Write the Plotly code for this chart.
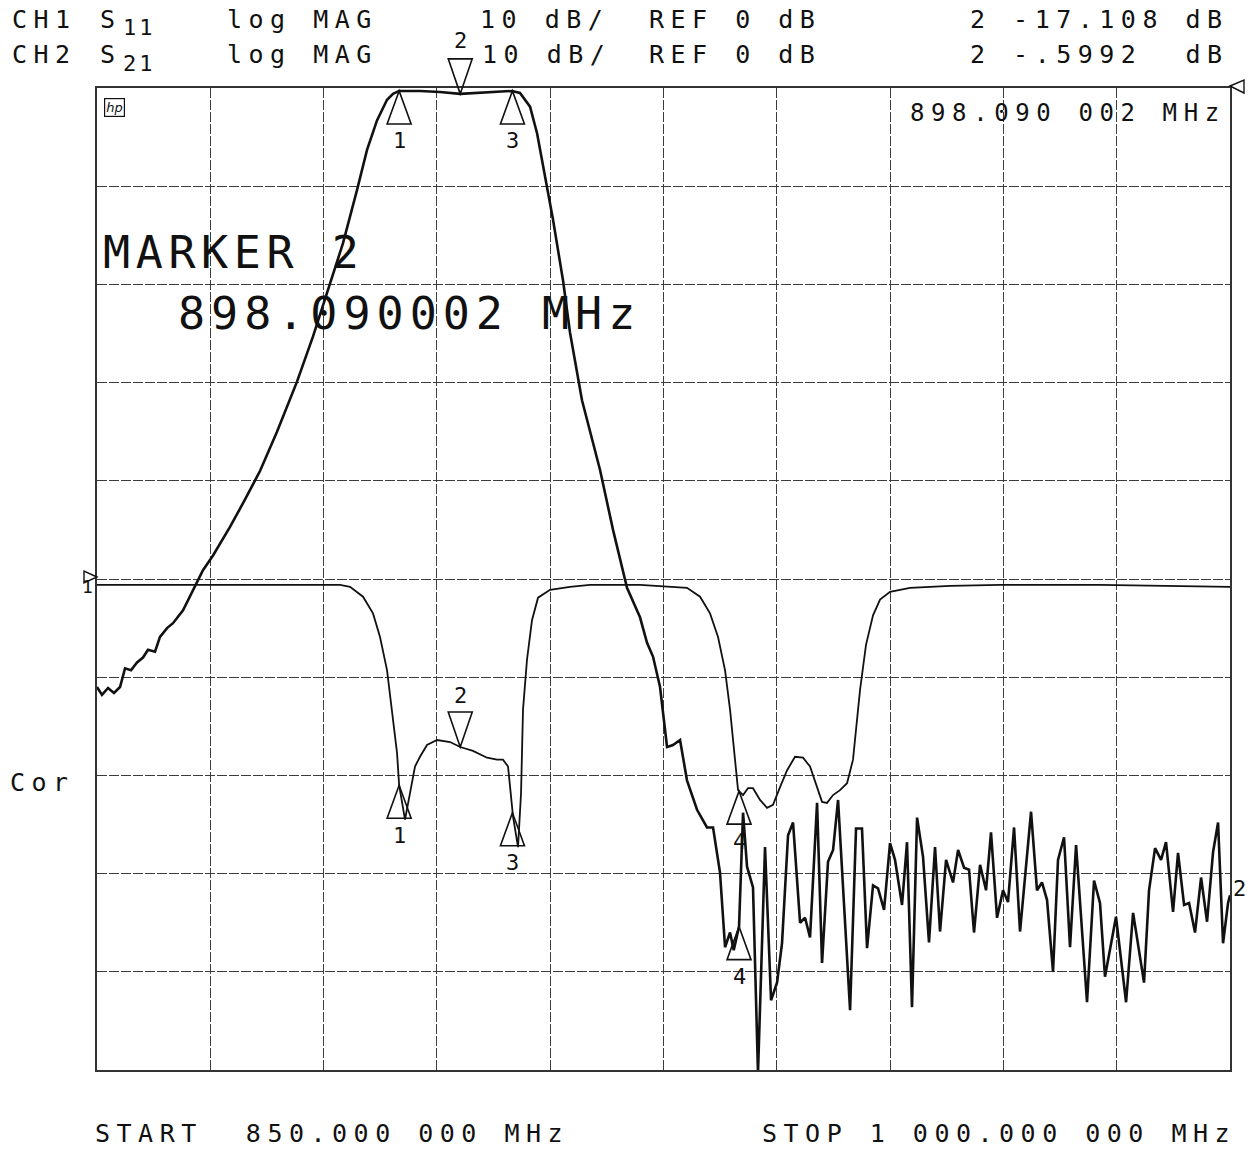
import plotly.graph_objects as go

# ---------------- data ----------------
FREQ_START, FREQ_STOP = 850.0, 1000.0   # MHz
S21_RANGE = [-100.0, 0.0]               # CH2, REF 0 dB at top, 10 dB/div
S11_RANGE = [-50.0, 50.0]               # CH1, REF 0 dB at centre, 10 dB/div

S21_MHZ = [850.0, 850.66, 851.46, 852.25, 853.05, 853.71, 854.50, 855.30, 856.09, 856.75,
           857.68, 858.34, 859.27, 860.06, 861.39, 862.71, 864.03, 865.36, 867.61, 869.60,
           871.58, 873.83, 876.48, 878.60, 880.85, 882.57, 884.42, 885.75, 887.07, 888.40,
           889.19, 889.98, 892.76, 895.41, 898.09, 900.71, 903.36, 904.95, 906.0, 907.33,
           908.26, 909.05, 910.37, 911.70, 912.62, 914.21, 916.6, 918.32, 920.17, 921.89,
           922.82, 923.61, 924.54, 925.47, 926.26, 927.19, 928.11, 929.44, 930.76, 931.56,
           932.48, 933.15, 933.81, 934.30, 935.0, 935.53, 936.06, 936.85, 937.51, 938.44,
           939.24, 940.03, 940.69, 941.49, 942.15, 943.08, 943.74, 944.40, 945.33, 945.99,
           946.78, 947.45, 948.11, 949.70, 950.49, 951.28, 951.95, 952.74, 953.40, 954.20,
           954.99, 955.65, 956.58, 957.24, 957.90, 958.57, 959.36, 960.15, 960.95, 961.61,
           962.41, 963.33, 964.0, 964.79, 965.45, 966.11, 966.91, 967.70, 968.36, 969.16,
           969.95, 970.61, 971.41, 972.20, 973.66, 974.45, 975.11, 975.78, 976.57, 977.23,
           978.03, 978.82, 979.62, 981.07, 982.0, 982.79, 983.45, 984.91, 986.24, 987.17,
           988.62, 989.28, 990.08, 990.87, 991.53, 992.46, 993.12, 993.92, 994.58, 995.37,
           996.17, 996.96, 997.76, 998.42, 999.08, 999.74, 1000.0]
S21_DB = [-61.0, -61.8, -61.1, -61.6, -61.0, -59.1, -59.3, -58.5, -58.0, -57.2,
          -57.4, -55.9, -55.0, -54.5, -53.2, -51.1, -49.1, -47.6, -44.7, -41.9,
          -39.0, -35.0, -29.9, -25.3, -20.0, -15.8, -10.4, -6.3, -3.3, -1.2,
          -0.6, -0.3, -0.3, -0.4, -0.6, -0.5, -0.4, -0.3, -0.5, -1.9,
          -4.6, -8.0, -13.4, -19.6, -24.9, -31.8, -38.9, -45.0, -50.9, -53.9,
          -56.5, -57.9, -61.0, -67.1, -66.9, -66.4, -70.5, -73.5, -75.3, -75.3,
          -79.9, -87.5, -86.0, -87.8, -85.4, -73.8, -79.3, -81.4, -100.3, -77.3,
          -92.9, -91.1, -87.1, -76.1, -74.8, -85.0, -84.5, -86.5, -72.8, -89.1,
          -78.8, -77.6, -72.5, -93.9, -75.4, -75.4, -87.6, -81.2, -81.5, -83.7,
          -76.9, -78.6, -83.2, -76.8, -93.6, -74.3, -78.3, -87.0, -77.3, -85.9,
          -78.6, -80.9, -77.6, -79.4, -79.6, -86.0, -79.1, -81.7, -75.8, -84.5,
          -81.7, -82.9, -75.3, -85.9, -73.7, -81.7, -80.9, -82.7, -90.0, -78.6,
          -76.3, -87.5, -77.1, -93.1, -80.7, -83.0, -90.5, -84.4, -93.1, -84.0,
          -91.1, -81.7, -77.4, -78.6, -76.8, -83.9, -77.9, -83.2, -83.0, -86.0,
          -80.4, -84.9, -77.8, -74.8, -87.1, -83.0, -82.2]

S11_MHZ = [850.0, 863.64, 876.88, 882.17, 883.5, 885.22, 886.54, 887.47, 888.40, 889.06,
           889.72, 890.0, 890.78, 891.44, 892.10, 892.76, 893.69, 895.02, 896.74, 898.09,
           899.78, 901.64, 902.96, 903.75, 904.42, 905.08, 905.74, 906.14, 906.40, 906.93,
           907.59, 908.39, 909.98, 912.62, 915.27, 921.89, 928.11, 929.84, 931.16, 932.22,
           933.15, 933.81, 934.34, 934.87, 935.53, 936.19, 936.85, 937.78, 938.71, 939.50,
           940.43, 941.35, 942.41, 943.47, 944.40, 945.33, 945.99, 946.65, 947.45, 948.37,
           949.30, 950.09, 951.02, 951.81, 952.74, 953.67, 954.99, 957.64, 962.94, 969.55,
           982.79, 1000.0]
S11_DB = [-0.6, -0.6, -0.6, -0.6, -0.8, -1.8, -3.5, -5.9, -9.3, -13.3,
          -17.7, -21.0, -24.5, -21.8, -19.1, -18.1, -16.9, -16.4, -16.6, -17.108,
          -17.5, -18.2, -18.4, -18.4, -19.1, -24.2, -27.3, -21.8, -13.3, -8.2,
          -4.2, -1.9, -1.1, -0.8, -0.6, -0.6, -0.9, -1.8, -3.5, -5.9,
          -9.3, -13.3, -17.7, -21.5, -22.0, -21.3, -21.3, -22.5, -23.3, -23.0,
          -21.2, -19.5, -18.1, -18.2, -19.1, -21.2, -22.7, -22.8, -22.0, -21.5,
          -20.8, -18.4, -11.3, -6.7, -3.7, -2.1, -1.3, -0.9, -0.7, -0.6,
          -0.6, -0.8]

MARKER_NO = ["1", "2", "3", "4"]
MARKER_MHZ = [890.0, 898.090002, 905.0, 935.0]
S11_MARKER_DB = [-21.0, -17.108, -23.8, -21.6]
S21_MARKER_DB = [-0.3, -0.5992, -0.3, -85.4]
ACTIVE_MARKER = "2"

# ---------------- layout constants ----------------
W, H = 1252, 1151
L, R, T, B = 97, 22, 88, 81
PLOT_X0, PLOT_X1, PLOT_Y0, PLOT_Y1 = L, W - R, T, H - B   # page pixels
FONT = "DejaVu Sans Mono"
INK = "#111111"


def px(x):
    return (x - PLOT_X0) / (PLOT_X1 - PLOT_X0)


def py(y):
    return (PLOT_Y1 - y) / (PLOT_Y1 - PLOT_Y0)


def label(s, x, y, size=25, sp=6.5):
    return dict(text=f'<span style="letter-spacing:{sp}px">{s}</span>',
                x=px(x), y=py(y), xref="paper", yref="paper",
                xanchor="left", yanchor="middle", showarrow=False,
                font=dict(family=FONT, size=size, color=INK))


fig = go.Figure()

fig.add_trace(go.Scatter(x=S11_MHZ, y=S11_DB, yaxis="y2", mode="lines",
                         line=dict(color=INK, width=1.8), name="CH1 S11",
                         showlegend=False))
fig.add_trace(go.Scatter(x=S21_MHZ, y=S21_DB, mode="lines",
                         line=dict(color=INK, width=2.6), name="CH2 S21",
                         showlegend=False, cliponaxis=True))

shapes = []
ann = []

tri_up = "M0,0 L-12,-33 L12,-33 Z"
tri_dn = "M0,0 L-12,35 L12,35 Z"

for no, f, d11, d21 in zip(MARKER_NO, MARKER_MHZ, S11_MARKER_DB, S21_MARKER_DB):
    active = (no == ACTIVE_MARKER)
    # S11 markers
    shapes.append(dict(type="path", xref="x", yref="y2", xsizemode="pixel", ysizemode="pixel",
                       xanchor=f, yanchor=d11, path=tri_dn if active else tri_up,
                       line=dict(color=INK, width=1.6), fillcolor="rgba(0,0,0,0)"))
    ann.append(dict(text=no, x=f, y=d11, xref="x", yref="y2", showarrow=False,
                    yshift=52 if active else -50,
                    font=dict(family=FONT, size=22, color=INK)))
    # S21 markers
    if active:
        frac = (d21 - S21_RANGE[0]) / (S21_RANGE[1] - S21_RANGE[0])
        shapes.append(dict(type="path", xref="x", yref="paper", xsizemode="pixel", ysizemode="pixel",
                           xanchor=f, yanchor=frac, path=tri_dn,
                           line=dict(color=INK, width=1.6), fillcolor="rgba(0,0,0,0)"))
    else:
        shapes.append(dict(type="path", xref="x", yref="y", xsizemode="pixel", ysizemode="pixel",
                           xanchor=f, yanchor=d21, path=tri_up,
                           line=dict(color=INK, width=1.6), fillcolor="rgba(0,0,0,0)"))
    ann.append(dict(text=no, x=f, y=d21, xref="x", yref="y", showarrow=False,
                    yshift=53 if active else -50,
                    font=dict(family=FONT, size=22, color=INK)))

# reference position indicators
shapes.append(dict(type="path", xref="paper", yref="paper", xsizemode="pixel", ysizemode="pixel",
                   xanchor=0, yanchor=(0 - S11_RANGE[0]) / (S11_RANGE[1] - S11_RANGE[0]),
                   path="M0,2 L-13,8 L-13,-4 Z", line=dict(color=INK, width=1.4)))
shapes.append(dict(type="path", xref="paper", yref="paper", xsizemode="pixel", ysizemode="pixel",
                   xanchor=1, yanchor=1, path="M0,2 L14,8 L14,-5 Z",
                   line=dict(color=INK, width=1.4)))

# header / footer / annotations (positions in page pixels)
ann += [
    label("CH1", 10, 19), label("S", 98, 19), label("11", 121, 28, size=22, sp=3),
    label("log MAG", 225, 19), label("10 dB/", 478, 19), label("REF 0 dB", 647, 19),
    label("2 -17.108 dB", 968, 19),
    label("CH2", 10, 54), label("S", 98, 54), label("21", 121, 63, size=22, sp=3),
    label("log MAG", 225, 54), label("10 dB/", 480, 54), label("REF 0 dB", 647, 54),
    label("2 -.5992  dB", 968, 54),
    label("898.090 002 MHz", 908, 113, size=24, sp=6.6),
    label("MARKER 2", 101, 253, size=45, sp=5.6),
    label("898.090002 MHz", 176, 313, size=45, sp=6),
    label("Cor", 8, 782),
    label("1", 80, 586, size=18, sp=0),
    label("2", 1231, 888, size=22, sp=0),
    label("START  850.000 000 MHz", 93, 1133),
    label("STOP 1 000.000 000 MHz", 760, 1133),
    dict(text="<i>hp</i>", x=px(104), y=py(108), xref="paper", yref="paper",
         xanchor="left", yanchor="middle", showarrow=False, borderpad=1,
         bordercolor=INK, borderwidth=1.2,
         font=dict(family="DejaVu Sans", size=13, color=INK)),
]

axis_common = dict(showgrid=True, gridcolor="#3c3c3c", gridwidth=1.2, griddash="10px,2px",
                   zeroline=False, showticklabels=False, ticks="",
                   showline=True, mirror=True, linecolor="#333333", linewidth=1.5)

fig.update_layout(
    width=W, height=H,
    margin=dict(l=L, r=R, t=T, b=B, pad=0),
    paper_bgcolor="white", plot_bgcolor="white",
    xaxis=dict(range=[FREQ_START, FREQ_STOP], tick0=FREQ_START, dtick=15, **axis_common),
    yaxis=dict(range=S21_RANGE, dtick=10, **axis_common),
    yaxis2=dict(range=S11_RANGE, overlaying="y", showgrid=False, zeroline=False,
                showticklabels=False, ticks="", showline=False),
    shapes=shapes,
    annotations=ann,
    showlegend=False,
)

# the page's default 8 px body margin would shift the figure; remove it
fig.write_html("out.html", config={"displayModeBar": False},
               post_script="document.body.style.margin='0';")
